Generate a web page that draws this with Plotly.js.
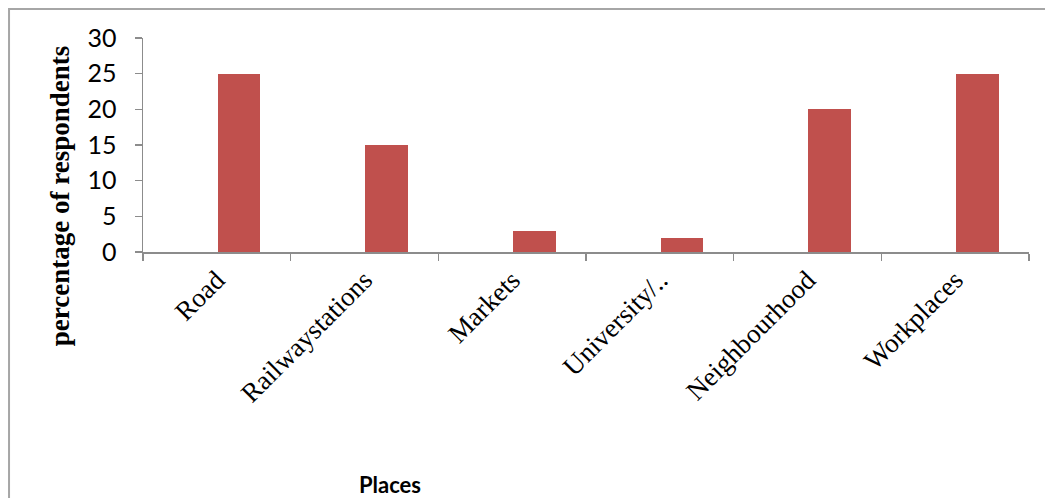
<!DOCTYPE html>
<html>
<head>
<meta charset="utf-8">
<script src="https://cdn.plot.ly/plotly-3.0.1.min.js"></script>
<style>html,body{margin:0;padding:0;background:#fff;}#chart{width:1045px;height:498px;}</style>
</head>
<body>
<div id="chart"></div>
<script>
const places = ["Road", "Railwaystations", "Markets", "University/..", "Neighbourhood", "Workplaces"];
const respondents = [25, 15, 3, 2, 20, 25];
const yTicks = [0, 5, 10, 15, 20, 25, 30];

const trace = {
  type: "bar",
  x: places,
  y: respondents,
  width: 0.29,
  offset: 0.005,
  marker: {color: "#C0504D", line: {width: 0}},
  hoverinfo: "x+y"
};

const layout = {
  width: 1045,
  height: 498,
  margin: {l: 143, r: 16, t: 38, b: 246},
  paper_bgcolor: "#ffffff",
  plot_bgcolor: "#ffffff",
  showlegend: false,
  bargap: 0,
  xaxis: {
    type: "category",
    showgrid: false,
    showline: true,
    linecolor: "#8c8c8c",
    linewidth: 1.5,
    ticks: "outside",
    tickson: "boundaries",
    ticklen: 7,
    tickcolor: "#8c8c8c",
    tickwidth: 1.5,
    tickangle: -45,
    tickfont: {family: "Liberation Serif, Times New Roman, serif", size: 27, color: "#000"},
    zeroline: false
  },
  yaxis: {
    range: [0, 30],
    tickvals: yTicks,
    ticktext: yTicks.map(String),
    showgrid: false,
    showline: true,
    linecolor: "#8c8c8c",
    linewidth: 1.5,
    ticks: "outside",
    ticklen: 7,
    tickcolor: "#8c8c8c",
    tickwidth: 1.5,
    ticklabelstandoff: 13,
    tickfont: {family: "Lato, Carlito, Calibri, sans-serif", size: 25, color: "#000"},
    zeroline: false
  },
  shapes: [{
    type: "rect", xref: "paper", yref: "paper",
    x0: -0.1512, x1: 1.2, y0: -3, y1: 1.1355,
    line: {color: "#a6a6a6", width: 2}, fillcolor: "rgba(0,0,0,0)", layer: "below"
  }],
  annotations: [
    {
      text: "<b>percentage of respondents</b>",
      xref: "paper", yref: "paper",
      x: -0.0935, y: 0.2617,
      xanchor: "center", yanchor: "middle",
      textangle: -90, showarrow: false,
      font: {family: "Liberation Serif, Times New Roman, serif", size: 27, color: "#000"}
    },
    {
      text: "<b>Places</b>",
      xref: "paper", yref: "paper",
      x: 0.2788, y: -1.0865,
      xanchor: "center", yanchor: "middle",
      showarrow: false,
      font: {family: "Lato, Carlito, Calibri, sans-serif", size: 22, color: "#000"}
    }
  ]
};

Plotly.newPlot("chart", [trace], layout, {displayModeBar: false, staticPlot: true});
</script>
</body>
</html>
